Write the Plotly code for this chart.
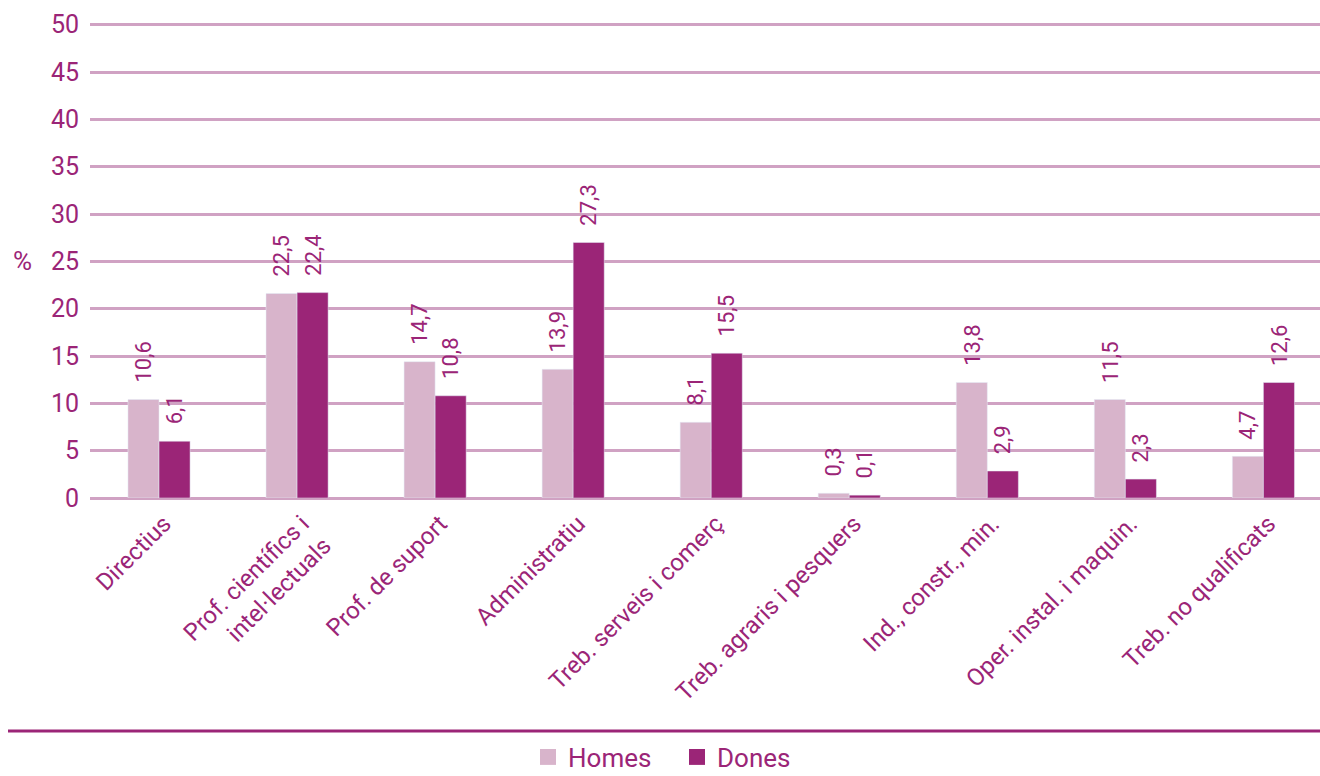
import plotly.graph_objects as go

categories = ["Directius", "Prof. científics i<br>intel·lectuals", "Prof. de suport", "Administratiu",
              "Treb. serveis i comerç", "Treb. agraris i pesquers", "Ind., constr., min.",
              "Oper. instal. i maquin.", "Treb. no qualificats"]
homes_bar = [10.4, 21.6, 14.4, 13.6, 8.0, 0.5, 12.2, 10.4, 4.4]
dones_bar = [6.0, 21.7, 10.8, 27.0, 15.3, 0.3, 2.85, 2.0, 12.2]
homes_label = [10.6, 22.5, 14.7, 13.9, 8.1, 0.3, 13.8, 11.5, 4.7]
dones_label = [6.1, 22.4, 10.8, 27.3, 15.5, 0.1, 2.9, 2.3, 12.6]
y_ticks = [0, 5, 10, 15, 20, 25, 30, 35, 40, 45, 50]

PINK = "#d8b4cb"
PURPLE = "#9b2577"
GRID = "#d0a2c3"
FONT = "Liberation Sans Narrow, Arial Narrow, Roboto, sans-serif"

def fmt(v):
    return f"{v:.1f}".replace(".", ",")

fig = go.Figure()
x_idx = list(range(len(categories)))
fig.add_trace(go.Bar(x=x_idx, y=homes_bar, name="Homes", marker_color=PINK, showlegend=False))
fig.add_trace(go.Bar(x=x_idx, y=dones_bar, name="Dones", marker_color=PURPLE, showlegend=False))
# legend entries
fig.add_trace(go.Scatter(x=[None], y=[None], mode="markers", name="Homes",
                         marker=dict(symbol="square", size=20, color=PINK)))
fig.add_trace(go.Scatter(x=[None], y=[None], mode="markers", name="Dones",
                         marker=dict(symbol="square", size=20, color=PURPLE)))

half = 0.1125
annotations = []
for i in x_idx:
    for off, h, lab in ((-half, homes_bar[i], homes_label[i]), (half, dones_bar[i], dones_label[i])):
        annotations.append(dict(x=i + off, y=h, xref="x", yref="y", text=fmt(lab),
                                textangle=-90, showarrow=False, xanchor="center", yanchor="bottom",
                                yshift=15, font=dict(family=FONT, size=22, color=PURPLE)))
annotations.append(dict(x=-0.055, y=25, xref="paper", yref="y", text="%", showarrow=False,
                        xanchor="center", yanchor="middle", font=dict(family=FONT, size=26, color=PURPLE)))

line_y = (498 - 731) / 478

fig.update_layout(
    width=1320, height=776,
    margin=dict(l=90, r=0, t=20, b=278),
    paper_bgcolor="white", plot_bgcolor="white",
    barmode="group", bargap=0.55, bargroupgap=0,
    font=dict(family=FONT, color=PURPLE),
    xaxis=dict(range=[-0.5, 8.41], tickmode="array", tickvals=x_idx, ticktext=categories,
               tickangle=-45, tickfont=dict(family=FONT, size=24, color=PURPLE),
               showgrid=False, showline=False, ticks="", ticklabelshift=5, ticklabelstandoff=6,
               automargin=False),
    yaxis=dict(range=[0, 50.5], tickvals=y_ticks, tickfont=dict(family=FONT, size=25, color=PURPLE),
               showgrid=True, gridcolor=GRID, gridwidth=3, zeroline=True, zerolinecolor=GRID,
               zerolinewidth=3, showline=False, ticks="", ticklabelstandoff=10, automargin=False),
    legend=dict(orientation="h", xref="container", yref="container", x=528 / 1320, xanchor="left",
                y=(776 - 757) / 776, yanchor="middle", font=dict(family=FONT, size=26, color=PURPLE),
                entrywidth=104, entrywidthmode="pixels", bgcolor="rgba(0,0,0,0)"),
    annotations=annotations,
    shapes=[dict(type="line", xref="paper", yref="paper", x0=-(90 - 8) / 1230, x1=1.0,
                 y0=line_y, y1=line_y, line=dict(color=PURPLE, width=3))],
)

fig.write_html("out.html", config={"displayModeBar": False},
               post_script="document.body.style.margin='0';")
